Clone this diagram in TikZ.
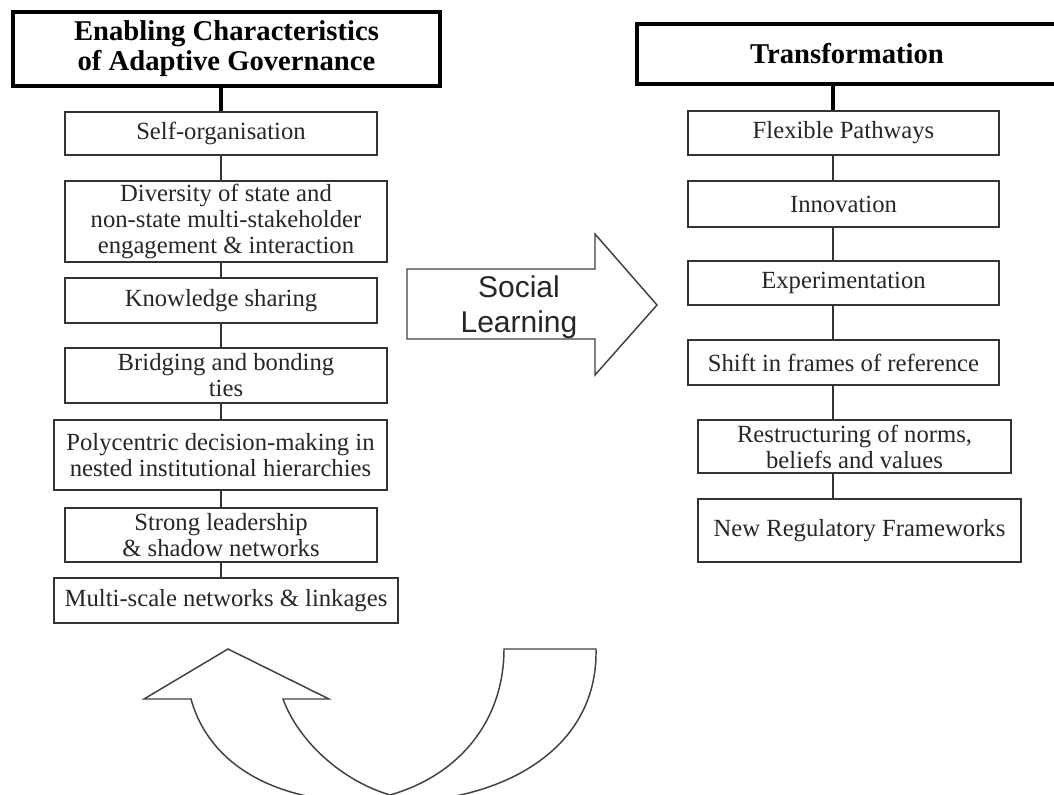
\documentclass[tikz,border=0pt]{standalone}
\usepackage{fontspec}
\setmainfont{Liberation Serif}
\newfontfamily\slfont{Liberation Sans}
\begin{document}
\begin{tikzpicture}[x=0.75pt,y=-0.75pt,
  box/.style={draw=black!80, line width=1.1pt, inner sep=0pt, align=center, text=black!85, font=\fontsize{18.5}{19.5}\selectfont},
  hdr/.style={draw=black, line width=2.3pt, inner sep=0pt, align=center, font=\fontsize{21.5}{22.5}\selectfont\bfseries},
  link/.style={draw=black!80, line width=1.1pt},
  hlink/.style={draw=black, line width=2.6pt},
  outl/.style={draw=black!75, line width=1.1pt, line join=miter}]
\useasboundingbox (0,0) rectangle (1054,795);
\coordinate (cl) at (221,0);
\coordinate (cr) at (833,0);

% left column
\node[hdr, minimum width=320.25pt, minimum height=55.5pt] (hl) at (226.5,49) {Enabling Characteristics\\of Adaptive Governance};
\node[box, minimum width=234pt, minimum height=32.25pt] (l1) at (221,133.5) {Self-organisation};
\node[box, minimum width=241.5pt, minimum height=60.75pt] (l2) at (226,221.5) {Diversity of state and\\non-state multi-stakeholder\\engagement \& interaction};
\node[box, minimum width=234pt, minimum height=33.75pt] (l3) at (221,300.5) {Knowledge sharing};
\node[box, minimum width=241.5pt, minimum height=41.25pt] (l4) at (226,375.5) {Bridging and bonding\\ties};
\node[box, minimum width=249.75pt, minimum height=52.5pt] (l5) at (220.5,455) {Polycentric decision-making in\\nested institutional hierarchies};
\node[box, minimum width=234pt, minimum height=40.5pt] (l6) at (221,535) {Strong leadership\\\& shadow networks};
\node[box, minimum width=258pt, minimum height=33.75pt] (l7) at (226,600.5) {Multi-scale networks \& linkages};

\draw[hlink] (hl.south -| cl) -- (l1.north -| cl);
\draw[link] (l1.south -| cl) -- (l2.north -| cl);
\draw[link] (l2.south -| cl) -- (l3.north -| cl);
\draw[link] (l3.south -| cl) -- (l4.north -| cl);
\draw[link] (l4.south -| cl) -- (l5.north -| cl);
\draw[link] (l5.south -| cl) -- (l6.north -| cl);
\draw[link] (l6.south -| cl) -- (l7.north -| cl);

% right column
\begin{scope}
\clip (0,0) rectangle (1054,795);
\node[hdr, minimum width=315pt, minimum height=45pt] (hr) at (847,54) {Transformation};
\end{scope}
\node[box, minimum width=233.25pt, minimum height=33pt] (r1) at (843.5,133) {Flexible Pathways};
\node[box, minimum width=233.25pt, minimum height=34.5pt] (r2) at (843.5,204) {Innovation};
\node[box, minimum width=233.25pt, minimum height=33pt] (r3) at (843.5,283) {Experimentation};
\node[box, minimum width=233.25pt, minimum height=33.75pt] (r4) at (843.5,362.5) {Shift in frames of reference};
\node[box, minimum width=234.75pt, minimum height=39.75pt] (r5) at (854.5,446.5) {Restructuring of norms,\\beliefs and values};
\node[box, minimum width=242.25pt, minimum height=47.25pt] (r6) at (859.5,530.5) {New Regulatory Frameworks};

\draw[hlink] (hr.south -| cr) -- (r1.north -| cr);
\draw[link] (r1.south -| cr) -- (r2.north -| cr);
\draw[link] (r2.south -| cr) -- (r3.north -| cr);
\draw[link] (r3.south -| cr) -- (r4.north -| cr);
\draw[link] (r4.south -| cr) -- (r5.north -| cr);
\draw[link] (r5.south -| cr) -- (r6.north -| cr);

% social learning arrow
\draw[outl] (407,269) -- (595,269) -- (595,234) -- (657,305) -- (595,375) -- (595,339) -- (407,339) -- cycle;
\node[font=\slfont\fontsize{22.5}{26}\selectfont, align=center, text=black!85] (sl) at (519,307) {Social\\Learning};

% curved return arrow
\begin{scope}
\clip (0,0) rectangle (1054,795);
\draw[outl] (330,800) .. controls (250,790) and (205,750) .. (191,699)
  -- (144,699) -- (228,649) -- (329,699) -- (283,699)
  .. controls (298,740) and (340,780) .. (390,795)
  .. controls (460,775) and (504,720) .. (504,649)
  -- (596,649)
  .. controls (598,740) and (520,790) .. (430,800);
\end{scope}
\end{tikzpicture}
\end{document}
